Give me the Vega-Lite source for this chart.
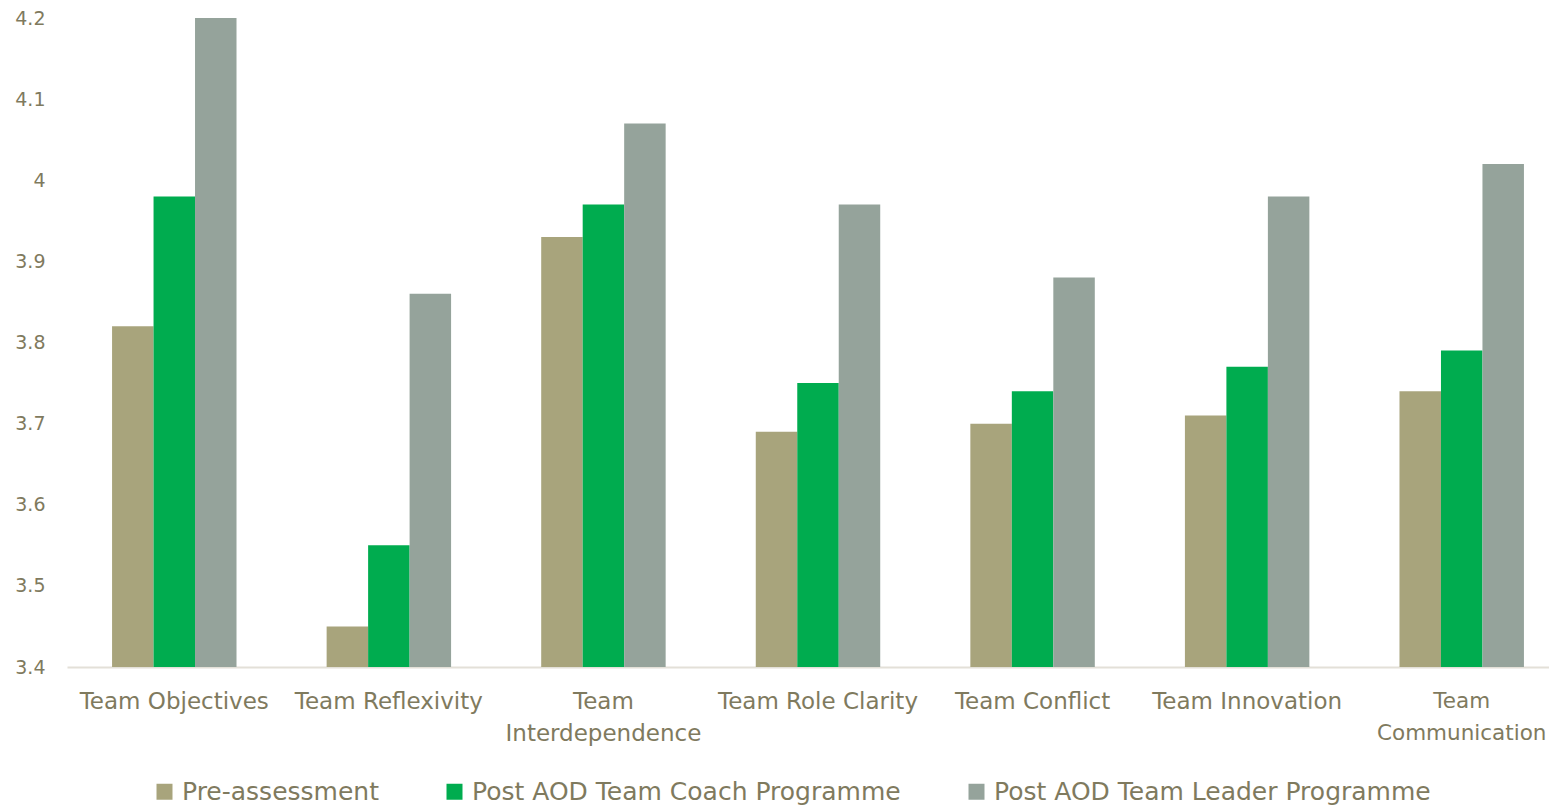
{
  "$schema": "https://vega.github.io/schema/vega-lite/v6.json",
  "width": 1502,
  "height": 649,
  "autosize": {"type": "none"},
  "padding": {"left": 67, "top": 18, "right": 0, "bottom": 138},
  "background": "white",
  "config": {
    "view": {"stroke": null},
    "font": "DejaVu Sans"
  },
  "data": {
    "values": [
      {"category": "Team Objectives", "series": "Pre-assessment", "value": 3.82},
      {"category": "Team Objectives", "series": "Post AOD Team Coach Programme", "value": 3.98},
      {"category": "Team Objectives", "series": "Post AOD Team Leader Programme", "value": 4.2},
      {"category": "Team Reflexivity", "series": "Pre-assessment", "value": 3.45},
      {"category": "Team Reflexivity", "series": "Post AOD Team Coach Programme", "value": 3.55},
      {"category": "Team Reflexivity", "series": "Post AOD Team Leader Programme", "value": 3.86},
      {"category": "Team Interdependence", "series": "Pre-assessment", "value": 3.93},
      {"category": "Team Interdependence", "series": "Post AOD Team Coach Programme", "value": 3.97},
      {"category": "Team Interdependence", "series": "Post AOD Team Leader Programme", "value": 4.07},
      {"category": "Team Role Clarity", "series": "Pre-assessment", "value": 3.69},
      {"category": "Team Role Clarity", "series": "Post AOD Team Coach Programme", "value": 3.75},
      {"category": "Team Role Clarity", "series": "Post AOD Team Leader Programme", "value": 3.97},
      {"category": "Team Conflict", "series": "Pre-assessment", "value": 3.70},
      {"category": "Team Conflict", "series": "Post AOD Team Coach Programme", "value": 3.74},
      {"category": "Team Conflict", "series": "Post AOD Team Leader Programme", "value": 3.88},
      {"category": "Team Innovation", "series": "Pre-assessment", "value": 3.71},
      {"category": "Team Innovation", "series": "Post AOD Team Coach Programme", "value": 3.77},
      {"category": "Team Innovation", "series": "Post AOD Team Leader Programme", "value": 3.98},
      {"category": "Team Communication", "series": "Pre-assessment", "value": 3.74},
      {"category": "Team Communication", "series": "Post AOD Team Coach Programme", "value": 3.79},
      {"category": "Team Communication", "series": "Post AOD Team Leader Programme", "value": 4.02}
    ]
  },
  "mark": {"type": "bar", "clip": true},
  "encoding": {
    "x": {
      "field": "category",
      "type": "nominal",
      "sort": null,
      "scale": {"paddingInner": 0.42, "paddingOuter": 0.21},
      "axis": {
        "title": null,
        "labelAngle": 0,
        "ticks": false,
        "domain": true,
        "domainColor": "#E3E0D8",
        "domainWidth": 2,
        "labelColor": "#7F7A5E",
        "labelFont": "DejaVu Sans",
        "labelFontSize": {"condition": {"test": "datum.value == 'Team Communication'", "value": 21.5}, "value": 23},
        "labelPadding": 34,
        "labelLineHeight": 32,
        "labelBaseline": "middle",
        "labelLimit": 400,
        "labelExpr": "datum.label == 'Team Interdependence' ? ['Team', 'Interdependence'] : datum.label == 'Team Communication' ? ['Team', 'Communication'] : datum.label"
      }
    },
    "xOffset": {
      "field": "series",
      "type": "nominal",
      "sort": ["Pre-assessment", "Post AOD Team Coach Programme", "Post AOD Team Leader Programme"],
      "scale": {"paddingInner": 0, "paddingOuter": 0}
    },
    "y": {
      "field": "value",
      "type": "quantitative",
      "scale": {"domain": [3.4, 4.2], "zero": false, "nice": false},
      "axis": {
        "title": null,
        "grid": false,
        "ticks": false,
        "domain": false,
        "format": "~g",
        "values": [3.4, 3.5, 3.6, 3.7, 3.8, 3.9, 4, 4.1, 4.2],
        "labelColor": "#7F7A5E",
        "labelFont": "DejaVu Sans",
        "labelFontSize": 19,
        "labelPadding": 22
      }
    },
    "color": {
      "field": "series",
      "type": "nominal",
      "sort": ["Pre-assessment", "Post AOD Team Coach Programme", "Post AOD Team Leader Programme"],
      "scale": {
        "domain": ["Pre-assessment", "Post AOD Team Coach Programme", "Post AOD Team Leader Programme"],
        "range": ["#A8A47C", "#00AC4F", "#95A39B"]
      },
      "legend": {
        "title": null,
        "orient": "none",
        "direction": "horizontal",
        "legendX": 85,
        "legendY": 761,
        "symbolType": "square",
        "symbolSize": 256,
        "symbolStrokeWidth": 0,
        "labelColor": "#7F7A5E",
        "labelFont": "DejaVu Sans",
        "labelFontSize": 25,
        "labelOffset": 5,
        "labelLimit": 600,
        "columnPadding": 63
      }
    }
  }
}
